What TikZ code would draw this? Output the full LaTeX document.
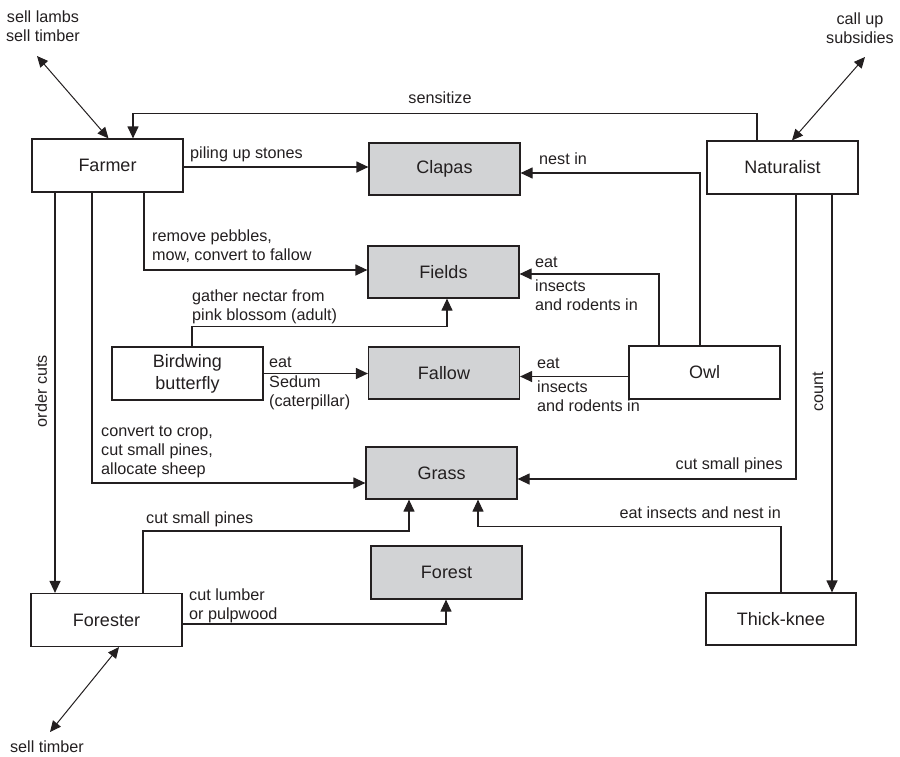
\documentclass[tikz,border=0pt]{standalone}
\usepackage{fontspec}
\setmainfont{Liberation Sans}
\usetikzlibrary{arrows.meta}
\definecolor{ink}{HTML}{231F20}
\definecolor{boxgray}{HTML}{D2D3D5}
\begin{document}
\begin{tikzpicture}[x=1pt,y=-1pt,
  box/.style={draw=ink, line width=1.2pt, minimum width=151pt, minimum height=53pt, inner sep=0pt,
    font=\fontsize{18}{22}\selectfont, text=ink, align=center},
  res/.style={box, fill=boxgray},
  lbl/.style={font=\fontsize{16.2}{19}\selectfont, text=ink, inner sep=0pt, align=left},
  conn/.style={draw=ink, line width=1.2pt},
  arr/.style={conn, -{Triangle[length=12pt,width=11pt]}},
  dbl/.style={conn, line width=1pt, {Triangle[length=11pt,width=10pt]}-{Triangle[length=11pt,width=10pt]}}]
\useasboundingbox (0,0) rectangle (900,756);

% actors
\node[box] (farmer) at (107.5,165.5) {Farmer};
\node[box] (naturalist) at (782.5,167.5) {Naturalist};
\node[box] (birdwing) at (187.5,373.5) {Birdwing\\butterfly};
\node[box] (owl) at (704.5,372.5) {Owl};
\node[box] (forester) at (106.5,620) {Forester};
\node[box, minimum width=150pt, minimum height=52pt] (thick) at (781,619) {Thick-knee};
% resources
\node[res, minimum height=52pt] (clapas) at (444.5,169) {Clapas};
\node[res, minimum height=52pt] (fields) at (443.5,272) {Fields};
\node[res, minimum height=52pt] (fallow) at (444,373) {Fallow};
\node[res, minimum height=52pt] (grass) at (441.5,473) {Grass};
\node[res] (forest) at (446.5,572.5) {Forest};

% outside texts
\node[lbl, align=center] (selll) at (43,26.5) {sell lambs\\sell timber};
\node[lbl, align=center] (callup) at (860,28) {call up\\subsidies};
\node[lbl, align=center] (sellt) at (47,747) {sell timber};
\coordinate (selllend) at (37,56);
\coordinate (callupend) at (865,57);
\coordinate (selltend) at (50,732);

% double arrows
\draw[dbl] (selllend) -- ([xshift=1pt]farmer.north);
\draw[dbl] (callupend) -- ([xshift=9.5pt]naturalist.north);
\draw[dbl] (selltend) -- ([xshift=12.5pt]forester.south);

% connectors
\draw[arr] ([yshift=-1.5pt]farmer.east) -- ([yshift=-1.5pt]farmer.east -| clapas.west);
\node[lbl, anchor=west] (l1) at (190,154) {piling up stones};

\draw[arr] ([xshift=-25.5pt]naturalist.north) -- ++(0,-27) -| ([xshift=25.5pt]farmer.north);
\node[lbl] (l2) at (440,98) {sensitize};

\draw[arr] ([xshift=-4.5pt]owl.north) |- ([yshift=-4pt]clapas.east);
\node[lbl, anchor=west] (l3) at (539,159) {nest in};

\draw[arr] ([xshift=36.5pt]farmer.south) |- ([yshift=2pt]fields.west);
\node[lbl, anchor=west] (l4) at (152,246.5) {remove pebbles,\\mow, convert to fallow};

\draw[arr] ([xshift=-52.5pt]farmer.south) -- ([xshift=-52.5pt]farmer.south |- forester.north);
\node[lbl, rotate=90] (l5) at (41,391) {order cuts};

\draw[arr] ([xshift=-15.5pt]farmer.south) |- ([yshift=-10pt]grass.west);
\node[lbl, anchor=west] (l6) at (101,452) {convert to crop,\\cut small pines,\\allocate sheep};

\draw[arr] ([xshift=-45.5pt]owl.north) |- ([yshift=-2pt]fields.east);
\node[lbl, anchor=west] (l7) at (535,262) {eat};
\node[lbl, anchor=west] (l8) at (535,295.5) {insects\\and rodents in};

\draw[arr] ([yshift=-4pt]owl.west) -- ([yshift=-4pt]owl.west -| fallow.east);
\node[lbl, anchor=west] (l9) at (537,363) {eat};
\node[lbl, anchor=west] (l10) at (537,396.5) {insects\\and rodents in};

\draw[arr] ([xshift=4.5pt]birdwing.north) -- ++(0,-20) -| ([xshift=3.5pt]fields.south);
\node[lbl, anchor=west] (l11) at (192,306.5) {gather nectar from\\pink blossom (adult)};

\draw[arr] (birdwing.east) -- (birdwing.east -| fallow.west);
\node[lbl, anchor=west] (l12) at (269,362) {eat};
\node[lbl, anchor=west] (l13) at (269,393) {Sedum\\(caterpillar)};

\draw[arr] ([xshift=13.5pt]naturalist.south) |- ([yshift=-6pt]grass.east);
\node[lbl, anchor=east] (l14) at (783,465) {cut small pines};

\draw[arr] ([xshift=49.5pt]naturalist.south) -- ([xshift=49.5pt]naturalist.south |- thick.north);
\node[lbl, rotate=90] (l15) at (818,392) {count};

\draw[arr] (thick.north) -- ++(0,-66) -| ([xshift=36.5pt]grass.south);
\node[lbl, anchor=east] (l16) at (781,513) {eat insects and nest in};

\draw[arr] ([xshift=36.5pt]forester.north) -- ++(0,-62) -| ([xshift=-32.5pt]grass.south);
\node[lbl, anchor=west] (l17) at (146,519) {cut small pines};

\draw[arr] ([yshift=-4pt]forester.east) -| ([xshift=-0.5pt]forest.south);
\node[lbl, anchor=west] (l18) at (189,605.5) {cut lumber\\or pulpwood};
\end{tikzpicture}
\end{document}
